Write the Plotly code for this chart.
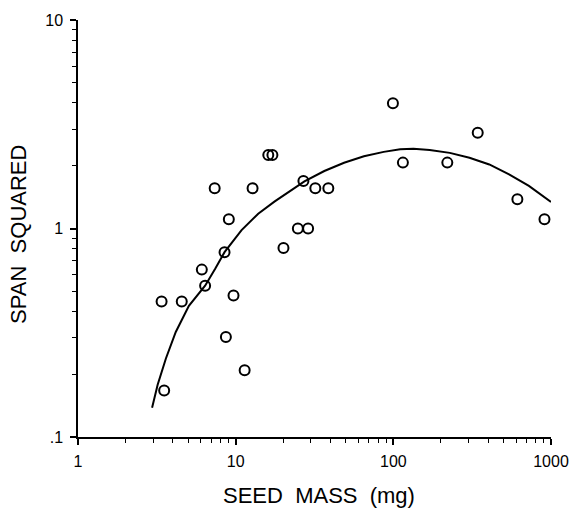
import plotly.graph_objects as go

# Observed data (seed mass in mg, span squared)
seed_mass = [3.39, 3.52, 4.55, 6.10, 6.40, 7.36, 8.50, 8.67, 9.05, 9.69, 11.4,
             12.8, 16.1, 17.1, 20.1, 24.8, 26.9, 28.8, 32.0, 38.7,
             99.4, 115, 220, 343, 612, 909]
span_squared = [0.447, 0.167, 0.447, 0.635, 0.532, 1.56, 0.770, 0.302, 1.107, 0.477, 0.209,
                1.56, 2.25, 2.25, 0.807, 1.0, 1.69, 1.0, 1.56, 1.56,
                3.99, 2.07, 2.07, 2.88, 1.38, 1.107]

# Fitted curve
curve_mass = [2.95, 3.20, 3.61, 4.17, 5.05, 6.40, 7.43, 8.50, 10.9, 13.9, 17.7, 22.5,
              27.3, 36.5, 48.7, 65.1, 86.9, 110.5, 134, 170, 228, 304, 406, 542, 724, 1000]
curve_span = [0.138, 0.178, 0.238, 0.319, 0.426, 0.532, 0.643, 0.770, 0.982, 1.177, 1.349, 1.517,
              1.681, 1.887, 2.068, 2.222, 2.331, 2.402, 2.415, 2.382, 2.305, 2.183, 2.029, 1.820, 1.602, 1.34]

x_tickvals = [1, 10, 100, 1000]
x_ticktext = ["1", "10", "100", "1000"]
y_tickvals = [0.1, 1, 10]
y_ticktext = [".1", "1", "10"]

FONT = "Arial, Liberation Sans, Helvetica, sans-serif"

fig = go.Figure()
fig.add_trace(go.Scatter(x=curve_mass, y=curve_span, mode="lines",
                         line=dict(color="black", width=2), hoverinfo="skip"))
fig.add_trace(go.Scatter(x=seed_mass, y=span_squared, mode="markers",
                         marker=dict(symbol="circle-open", size=10, color="black",
                                     line=dict(width=2, color="black"))))

L, R, T, B = 78, 25, 14, 75
W, H = 581, 512
fig.update_layout(
    width=W, height=H,
    margin=dict(l=L, r=R, t=T, b=B),
    paper_bgcolor="white", plot_bgcolor="white",
    showlegend=False,
    font=dict(family=FONT, color="black", size=16),
)
fig.update_xaxes(
    type="log", range=[0, 3],
    tickvals=x_tickvals, ticktext=x_ticktext,
    showgrid=False, zeroline=False,
    showline=True, linecolor="black", linewidth=1.5,
    ticks="outside", ticklen=6, tickwidth=1.5, tickcolor="black",
    tickfont=dict(size=16, family=FONT, color="black"),
    ticklabelstandoff=3,
    minor=dict(tickvals=[v * d for d in (1, 10, 100) for v in range(2, 10)],
               ticks="outside", ticklen=4, tickwidth=1.3, tickcolor="black", showgrid=False),
)
fig.update_yaxes(
    type="log", range=[-1, 1],
    tickvals=y_tickvals, ticktext=y_ticktext,
    showgrid=False, zeroline=False,
    showline=True, linecolor="black", linewidth=1.5,
    ticks="outside", ticklen=6, tickwidth=1.5, tickcolor="black",
    tickfont=dict(size=16, family=FONT, color="black"),
    ticklabelstandoff=4,
    minor=dict(tickvals=[v * d for d in (0.1, 1) for v in range(2, 10)],
               ticks="outside", ticklen=4, tickwidth=1.3, tickcolor="black", showgrid=False),
)

pw, ph = W - L - R, H - T - B
fig.add_annotation(text="SEED\u00a0\u00a0MASS\u00a0\u00a0(mg)", xref="paper", yref="paper",
                   x=(321.5 - L) / pw, y=0, xanchor="center", yanchor="middle",
                   yshift=-(495 - (H - B)), showarrow=False,
                   font=dict(size=22, family=FONT, color="black"))
fig.add_annotation(text="SPAN\u00a0\u00a0SQUARED", xref="paper", yref="paper",
                   x=0, y=((H - B) - 232) / ph, xanchor="center", yanchor="middle",
                   xshift=19 - L, textangle=-90, showarrow=False,
                   font=dict(size=22, family=FONT, color="black"))

fig.write_html(
    "out.html",
    config={"displayModeBar": False},
    post_script="document.body.style.margin='0';document.body.style.overflow='hidden';",
)
